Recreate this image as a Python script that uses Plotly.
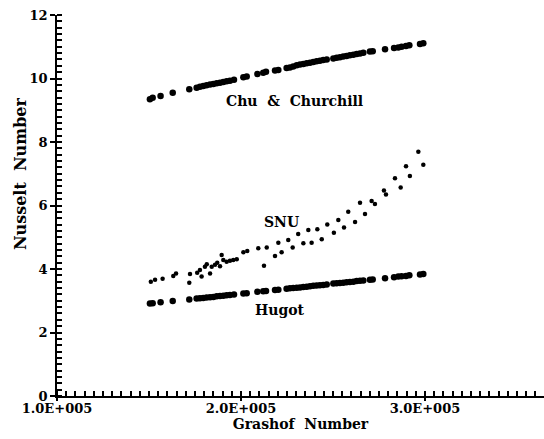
import plotly.graph_objects as go

# Grashof numbers at which the correlations were evaluated
gr_model = [150500, 152000, 156300, 162900, 171900, 175900, 177700, 179500, 181300, 183200,
            185000, 186800, 188600, 190400, 192200, 194000, 196200, 201300, 203100, 208900,
            212100, 213600, 218500, 220300, 224800, 226600, 228400, 230300, 232100, 233900,
            235700, 237500, 239300, 241100, 242900, 244700, 246600, 250200, 252000, 253800,
            255600, 257400, 259200, 261100, 262900, 264700, 266500, 270100, 271600, 278300,
            283200, 285500, 287300, 289700, 291500, 297300, 299100]

nu_chu = [9.35, 9.39, 9.45, 9.55, 9.66, 9.71, 9.74, 9.76, 9.79, 9.81,
          9.83, 9.85, 9.87, 9.89, 9.91, 9.93, 9.96, 10.04, 10.06, 10.14,
          10.18, 10.21, 10.25, 10.27, 10.33, 10.35, 10.38, 10.42, 10.44, 10.46,
          10.48, 10.50, 10.52, 10.54, 10.56, 10.58, 10.60, 10.63, 10.65, 10.67,
          10.69, 10.71, 10.73, 10.75, 10.77, 10.79, 10.81, 10.85, 10.86, 10.92,
          10.96, 10.98, 11.00, 11.02, 11.05, 11.09, 11.11]

nu_hugot = [2.91, 2.92, 2.95, 2.99, 3.04, 3.07, 3.08, 3.09, 3.10, 3.11,
            3.12, 3.14, 3.15, 3.16, 3.17, 3.18, 3.20, 3.23, 3.24, 3.28,
            3.30, 3.31, 3.34, 3.35, 3.38, 3.39, 3.40, 3.41, 3.42, 3.43,
            3.44, 3.46, 3.47, 3.48, 3.49, 3.50, 3.51, 3.54, 3.55, 3.56,
            3.57, 3.58, 3.59, 3.60, 3.62, 3.63, 3.64, 3.66, 3.67, 3.71,
            3.74, 3.76, 3.77, 3.78, 3.80, 3.83, 3.84]

# SNU experimental data
gr_snu = [151000, 153300, 157400, 163200, 164700, 171900, 172300, 176200, 177700, 178600,
          180400, 181400, 183200, 184100, 185900, 187100, 188600, 189500, 190400, 192200,
          194000, 195800, 197700, 201300, 203400, 209400, 212500, 214000, 218500, 220300,
          222100, 225700, 228100, 231100, 233900, 236600, 238400, 241500, 243900, 246900,
          250500, 252900, 256000, 258300, 262000, 264700, 267400, 271000, 272800, 277700,
          278800, 283700, 286800, 289700, 291800, 296400, 299100]

nu_snu = [3.60, 3.66, 3.69, 3.78, 3.86, 3.57, 3.84, 3.88, 3.97, 3.76,
          4.07, 4.15, 3.86, 4.07, 4.13, 4.20, 4.09, 4.44, 4.28, 4.23,
          4.26, 4.28, 4.31, 4.53, 4.57, 4.65, 4.10, 4.68, 4.41, 4.83,
          4.53, 4.91, 4.68, 5.10, 4.81, 5.23, 4.83, 5.25, 4.94, 5.40,
          5.14, 5.54, 5.31, 5.80, 5.48, 6.09, 5.73, 6.14, 6.05, 6.47,
          6.35, 6.86, 6.57, 7.24, 6.93, 7.69, 7.28]

y_tick_step = 2
y_minor_step = 0.2
x_tick_step = 100000
x_minor_step = 5000
x_tick_labels = {"100k": "1.0E+005", "200k": "2.0E+005", "300k": "3.0E+005"}

SERIF = "DejaVu Serif"

fig = go.Figure()
fig.add_trace(go.Scatter(x=gr_model, y=nu_chu, mode="markers",
                         marker=dict(color="black", size=6.5), showlegend=False))
fig.add_trace(go.Scatter(x=gr_model, y=nu_hugot, mode="markers",
                         marker=dict(color="black", size=6.5), showlegend=False))
fig.add_trace(go.Scatter(x=gr_snu, y=nu_snu, mode="markers",
                         marker=dict(color="black", size=4.5), showlegend=False))

lab_font = dict(family=SERIF, size=14, color="black", weight="bold")
fig.add_annotation(x=229000, y=9.29, text="Chu&nbsp;&nbsp;&amp;&nbsp;&nbsp;Churchill",
                   showarrow=False, font=lab_font)
fig.add_annotation(x=222000, y=5.49, text="SNU", showarrow=False, font=lab_font)
fig.add_annotation(x=221200, y=2.71, text="Hugot", showarrow=False, font=lab_font)

fig.add_annotation(xref="paper", yref="paper", x=-0.076, y=0.585, xanchor="center", yanchor="middle",
                   text="Nusselt&nbsp;&nbsp;Number",
                   textangle=-90, showarrow=False,
                   font=dict(family=SERIF, size=16, color="black", weight="bold"))

tick_font = dict(family=SERIF, size=13, color="black", weight="bold")

fig.update_layout(
    width=544, height=439, margin=dict(l=57, r=0, t=15, b=43, autoexpand=False),
    paper_bgcolor="white", plot_bgcolor="white",
    xaxis=dict(range=[100000, 364700], dtick=x_tick_step, tick0=100000,
               labelalias=x_tick_labels,
               showline=True, linecolor="black", linewidth=1.5, showgrid=False, zeroline=False,
               ticks="outside", ticklen=3, tickwidth=1.5, tickcolor="black",
               ticklabelstandoff=-3, tickfont=tick_font,
               minor=dict(ticks="inside", ticklen=5, tickcolor="black", tickwidth=1.5,
                          dtick=x_minor_step),
               title=dict(text="Grashof&nbsp;&nbsp;Number", standoff=0,
                          font=dict(family=SERIF, size=14, color="black", weight="bold"))),
    yaxis=dict(range=[0, 12], dtick=y_tick_step,
               showline=True, linecolor="black", linewidth=1.5, showgrid=False, zeroline=False,
               ticks="outside", ticklen=5, tickwidth=1.5, tickcolor="black",
               tickfont=tick_font,
               minor=dict(ticks="inside", ticklen=5, tickcolor="black", tickwidth=1.5,
                          dtick=y_minor_step)),
)

fig.write_html("out.html")
